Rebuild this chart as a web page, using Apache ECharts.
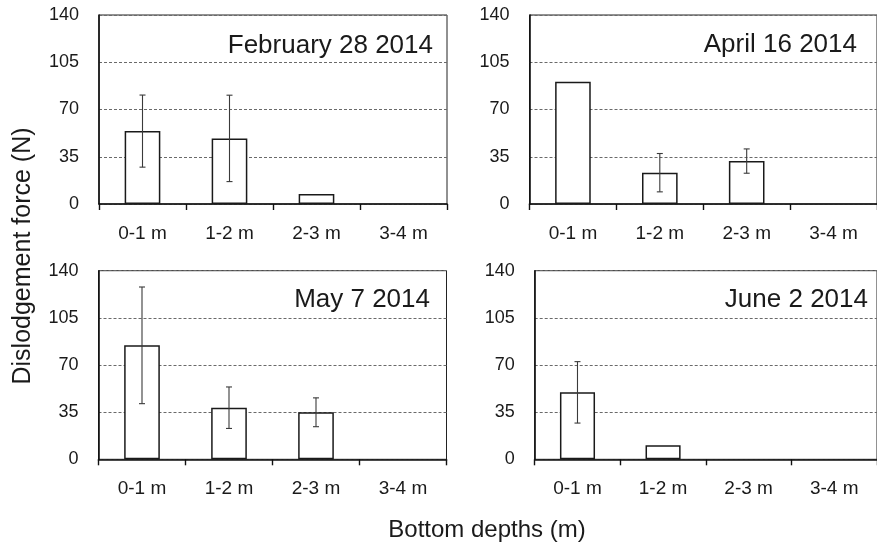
<!DOCTYPE html>
<html>
<head>
<meta charset="utf-8">
<script src="https://cdn.jsdelivr.net/npm/echarts@6/dist/echarts.min.js"></script>
<style>
  html, body { margin: 0; padding: 0; background: #fff; }
  #chart { width: 877px; height: 549px; }
</style>
</head>
<body>
<div id="chart"></div>
<script>
// Depth classes shared by all four sampling dates
const depths = ['0-1 m', '1-2 m', '2-3 m', '3-4 m'];
const yTicks = [0, 35, 70, 105, 140];

// Mean dislodgement force (N) per depth class
const feb28 = [54.0, 48.6, 7.4, 0];
const apr16 = [90.5, 23.2, 31.8, 0];
const may7  = [84.6, 38.3, 34.9, 0];
const jun2  = [49.7, 10.4, 0, 0];

// Standard deviation (N); null where no error bar is drawn
const feb28Sd = [26.7, 32.0, null, null];
const apr16Sd = [null, 14.2, 9.0, null];
const may7Sd  = [43.3, 15.4, 10.7, null];
const jun2Sd  = [22.8, null, null, null];

const dateLabels = ['February 28 2014', 'April 16 2014', 'May 7 2014', 'June 2 2014'];

const panels = [
  { means: feb28, sd: feb28Sd, grid: { left: 99,    top: 15,    width: 348, height: 189 },   title: [433, 45.5] },
  { means: apr16, sd: apr16Sd, grid: { left: 529.5, top: 15,    width: 348, height: 189 },   title: [857, 45] },
  { means: may7,  sd: may7Sd,  grid: { left: 98.5,  top: 270.7, width: 348, height: 188.6 }, title: [430, 299.5] },
  { means: jun2,  sd: jun2Sd,  grid: { left: 534.7, top: 270.7, width: 349, height: 188.6 }, title: [868, 300] }
];

const FONT = 'Liberation Sans, Arial, sans-serif';
const INK = '#1a1a1a';

const grids = [], xAxes = [], yAxes = [], series = [], graphics = [];

panels.forEach((p, i) => {
  grids.push(Object.assign({
    show: true, borderColor: '#222', borderWidth: 1, backgroundColor: 'transparent', containLabel: false
  }, p.grid));

  xAxes.push({
    type: 'category', gridIndex: i, data: depths, boundaryGap: true,
    axisLine: { show: true, lineStyle: { color: '#111', width: 1.6 } },
    axisTick: { show: true, inside: false, length: 6, alignWithLabel: false, lineStyle: { color: '#111', width: 1.4 } },
    axisLabel: { color: INK, fontSize: 19, fontFamily: FONT, margin: 20 },
    splitLine: { show: false }
  });

  yAxes.push({
    type: 'value', gridIndex: i, min: yTicks[0], max: yTicks[yTicks.length - 1], interval: yTicks[1] - yTicks[0],
    axisLine: { show: true, lineStyle: { color: '#111', width: 1.6 } },
    axisTick: { show: false },
    axisLabel: { color: INK, fontSize: 18, fontFamily: FONT, margin: 20 },
    splitLine: { show: true, lineStyle: { color: '#6a6a6a', width: 1, type: [3, 2] } }
  });

  // Zero-height bars get no outline so nothing is drawn along the axis
  const barData = p.means.map(v => v === 0 ? { value: v, itemStyle: { borderWidth: 0 } } : v);

  series.push({
    type: 'bar', xAxisIndex: i, yAxisIndex: i, data: barData, barWidth: '41%',
    itemStyle: { color: '#fff', borderColor: '#1a1a1a', borderWidth: 1.5 },
    silent: true, animation: false
  });

  const errData = [];
  p.sd.forEach((s, k) => {
    if (s !== null) errData.push([k, p.means[k] - s, p.means[k] + s]);
  });

  series.push({
    type: 'custom', xAxisIndex: i, yAxisIndex: i, data: errData, silent: true, animation: false, z: 5,
    renderItem: function (params, api) {
      const cat = api.value(0);
      const lo = api.coord([cat, api.value(1)]);
      const hi = api.coord([cat, api.value(2)]);
      const cap = 3;
      const st = { stroke: '#3a3a3a', lineWidth: 1.1 };
      return {
        type: 'group',
        children: [
          { type: 'line', shape: { x1: lo[0], y1: lo[1], x2: hi[0], y2: hi[1] }, style: st },
          { type: 'line', shape: { x1: hi[0] - cap, y1: hi[1], x2: hi[0] + cap, y2: hi[1] }, style: st },
          { type: 'line', shape: { x1: lo[0] - cap, y1: lo[1], x2: lo[0] + cap, y2: lo[1] }, style: st }
        ]
      };
    }
  });

  graphics.push({
    type: 'text', x: p.title[0], y: p.title[1], z: 10,
    style: { text: dateLabels[i], fill: INK, font: '26px ' + FONT, textAlign: 'right', textVerticalAlign: 'middle' }
  });
});

// Shared axis titles
graphics.push({
  type: 'text', x: 23, y: 256, rotation: Math.PI / 2, z: 10,
  style: { text: 'Dislodgement force (N)', fill: INK, font: '25px ' + FONT, textAlign: 'center', textVerticalAlign: 'middle' }
});
graphics.push({
  type: 'text', x: 487, y: 530, z: 10,
  style: { text: 'Bottom depths (m)', fill: INK, font: '24px ' + FONT, textAlign: 'center', textVerticalAlign: 'middle' }
});

const chart = echarts.init(document.getElementById('chart'), null, { renderer: 'canvas' });
chart.setOption({
  backgroundColor: '#fff',
  animation: false,
  grid: grids,
  xAxis: xAxes,
  yAxis: yAxes,
  series: series,
  graphic: graphics
});
</script>
</body>
</html>
